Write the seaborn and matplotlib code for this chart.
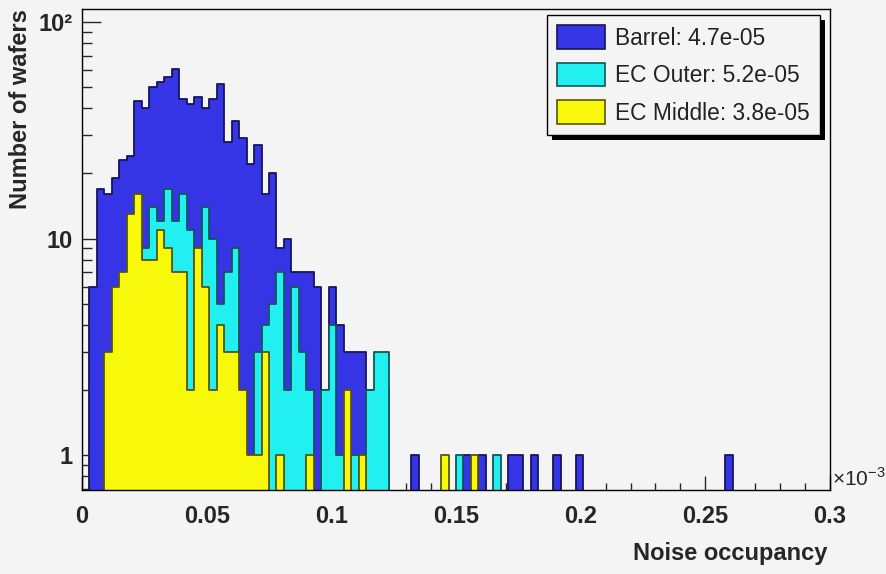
import numpy as np
import pandas as pd
import matplotlib
matplotlib.use("Agg")
import matplotlib.pyplot as plt
import seaborn as sns
from matplotlib.patches import Patch, Rectangle
from matplotlib.ticker import FixedLocator, NullFormatter, MultipleLocator
from matplotlib.transforms import IdentityTransform

# ---------------- data (counts per bin, 100 bins over 0 .. 0.3 x1e-3) ----------------
N_BINS = 100
X_MIN, X_MAX = 0.0, 0.3

barrel_counts = [
    0, 6, 17, 16, 19, 23, 24, 43, 40, 50,
    53, 56, 61, 44, 42, 45, 40, 44, 52, 28,
    35, 29, 22, 27, 16, 20, 9, 10, 7, 7,
    7, 6, 2, 6, 4, 3, 3, 3, 2, 2,
    2, 0, 0, 0, 1, 0, 0, 0, 0, 0,
    0, 1, 0, 1, 0, 0, 0, 1, 1, 0,
    1, 0, 0, 1, 0, 0, 1, 0, 0, 0,
    0, 0, 0, 0, 0, 0, 0, 0, 0, 0,
    0, 0, 0, 0, 0, 0, 1, 0, 0, 0,
    0, 0, 0, 0, 0, 0, 0, 0, 0, 0,
]
ec_outer_counts = [
    0, 0, 0, 1, 2, 3, 5, 8, 9, 14,
    12, 17, 12, 16, 11, 8, 14, 10, 5, 7,
    9, 1, 0, 3, 4, 5, 7, 2, 6, 3,
    2, 0, 2, 4, 1, 1, 1, 1, 2, 3,
    3, 0, 0, 0, 0, 0, 0, 0, 0, 0,
    1, 0, 0, 0, 0, 1, 0, 0, 0, 0,
    0, 0, 0, 0, 0, 0, 0, 0, 0, 0,
    0, 0, 0, 0, 0, 0, 0, 0, 0, 0,
    0, 0, 0, 0, 0, 0, 0, 0, 0, 0,
    0, 0, 0, 0, 0, 0, 0, 0, 0, 0,
]
ec_middle_counts = [
    0, 0, 0, 3, 6, 7, 13, 16, 8, 8,
    11, 9, 7, 7, 2, 9, 6, 2, 4, 3,
    3, 2, 1, 1, 3, 0, 1, 0, 0, 0,
    1, 0, 0, 0, 0, 2, 0, 1, 0, 0,
    0, 0, 0, 0, 0, 0, 0, 0, 1, 0,
    0, 0, 1, 0, 0, 0, 0, 0, 0, 0,
    0, 0, 0, 0, 0, 0, 0, 0, 0, 0,
    0, 0, 0, 0, 0, 0, 0, 0, 0, 0,
    0, 0, 0, 0, 0, 0, 0, 0, 0, 0,
    0, 0, 0, 0, 0, 0, 0, 0, 0, 0,
]
series_labels = ["Barrel: 4.7e-05", "EC Outer: 5.2e-05", "EC Middle: 3.8e-05"]
x_tick_values = [0, 0.05, 0.1, 0.15, 0.2, 0.25, 0.3]
x_tick_labels = ["0", "0.05", "0.1", "0.15", "0.2", "0.25", "0.3"]
y_tick_values = [1, 10, 100]
y_tick_labels = ["1", "10", "10²"]
y_minor_values = [0.7, 0.8, 0.9, 2, 3, 4, 5, 6, 7, 8, 9, 20, 30, 40, 50, 60, 70, 80, 90]

# ---------------- styling ----------------
BG = "#f4f4f4"
fills = ["#3535e6", "#22f0f0", "#f8f80a"]
edges_c = ["#15155a", "#0e5656", "#56560a"]

sns.set_style("ticks")
plt.rcParams["font.family"] = ["Liberation Sans", "DejaVu Sans"]
plt.rcParams["mathtext.fontset"] = "custom"
plt.rcParams["mathtext.rm"] = "Liberation Sans"
plt.rcParams["mathtext.bf"] = "Liberation Sans:bold"

bin_edges = np.linspace(X_MIN, X_MAX, N_BINS + 1)
centers = (bin_edges[:-1] + bin_edges[1:]) / 2

df = pd.DataFrame({
    "x": np.tile(centers, 3),
    "count": np.concatenate([barrel_counts, ec_outer_counts, ec_middle_counts]),
    "series": np.repeat(series_labels, N_BINS),
})

fig = plt.figure(figsize=(8.86, 5.74), dpi=100, facecolor=BG)
ax = fig.add_axes([82 / 886, 1 - 490 / 574, 748 / 886, 481 / 574])
ax.set_facecolor(BG)
ax.set_yscale("log")

for lab, fc, ec in zip(series_labels, fills, edges_c):
    sub = df[df["series"] == lab]
    sns.histplot(data=sub, x="x", weights="count", bins=N_BINS, binrange=(X_MIN, X_MAX),
                 element="step", fill=True, color=fc, edgecolor=ec, linewidth=1.3,
                 alpha=1.0, ax=ax)

ax.set_xlim(X_MIN, X_MAX)
ax.set_ylim(0.689, 115)

for s in ax.spines.values():
    s.set_color("black")
    s.set_linewidth(1.0)
    s.set_visible(True)

ax.xaxis.set_major_locator(FixedLocator(x_tick_values))
ax.set_xticklabels(x_tick_labels, fontsize=17, fontweight="bold")
ax.xaxis.set_minor_locator(MultipleLocator(0.01))
ax.tick_params(axis="x", which="both", direction="in", top=False, bottom=True, pad=11)
ax.tick_params(axis="x", which="major", length=10, width=1)
ax.tick_params(axis="x", which="minor", length=5, width=1)

ax.yaxis.set_major_locator(FixedLocator(y_tick_values))
ax.set_yticklabels(y_tick_labels, fontsize=17, fontweight="bold")
ax.yaxis.set_minor_locator(FixedLocator(y_minor_values))
ax.yaxis.set_minor_formatter(NullFormatter())
ax.tick_params(axis="y", which="both", direction="in", left=True, right=False, pad=7)
ax.tick_params(axis="y", which="major", length=14, width=1)
ax.tick_params(axis="y", which="minor", length=7, width=1)

ax.set_xlabel("Noise occupancy", fontsize=17, fontweight="bold", loc="right")
ax.xaxis.set_label_coords(0.997, -0.131)
ax.xaxis.label.set_va("center")
ax.set_ylabel("Number of wafers", fontsize=17, fontweight="bold", loc="top")
ax.yaxis.set_label_coords(-0.082, 1.0)
ax.yaxis.label.set_va("center")

fig.text(832 / 886, 1 - 478 / 574, "×10$^{-3}$", fontsize=15, ha="left", va="center")

handles = [Patch(facecolor=fc, edgecolor=ec, linewidth=1.2) for fc, ec in zip(fills, edges_c)]
leg = ax.legend(handles, series_labels, loc="upper left",
                bbox_to_anchor=(547 / 886, 1 - 15 / 574), bbox_transform=fig.transFigure,
                borderaxespad=0, fontsize=16.4, frameon=True, fancybox=False,
                facecolor=BG, edgecolor="black", framealpha=1,
                handlelength=2.1, handleheight=1.23, handletextpad=0.44,
                labelspacing=0.57, borderpad=0.44)
leg.get_frame().set_linewidth(1.0)
leg.set_zorder(10)
for t in leg.get_texts():
    t.set_color("#222222")

fig.canvas.draw()
bb = leg.get_window_extent()
shadow = Rectangle((bb.x0 + 5, bb.y0 - 5), bb.width, bb.height, transform=IdentityTransform(),
                   facecolor="black", edgecolor="none", zorder=9)
ax.add_artist(shadow)
ax.set_xlim(X_MIN, X_MAX)
ax.set_ylim(0.689, 115)

fig.savefig("out.png", dpi=100, facecolor=BG)
